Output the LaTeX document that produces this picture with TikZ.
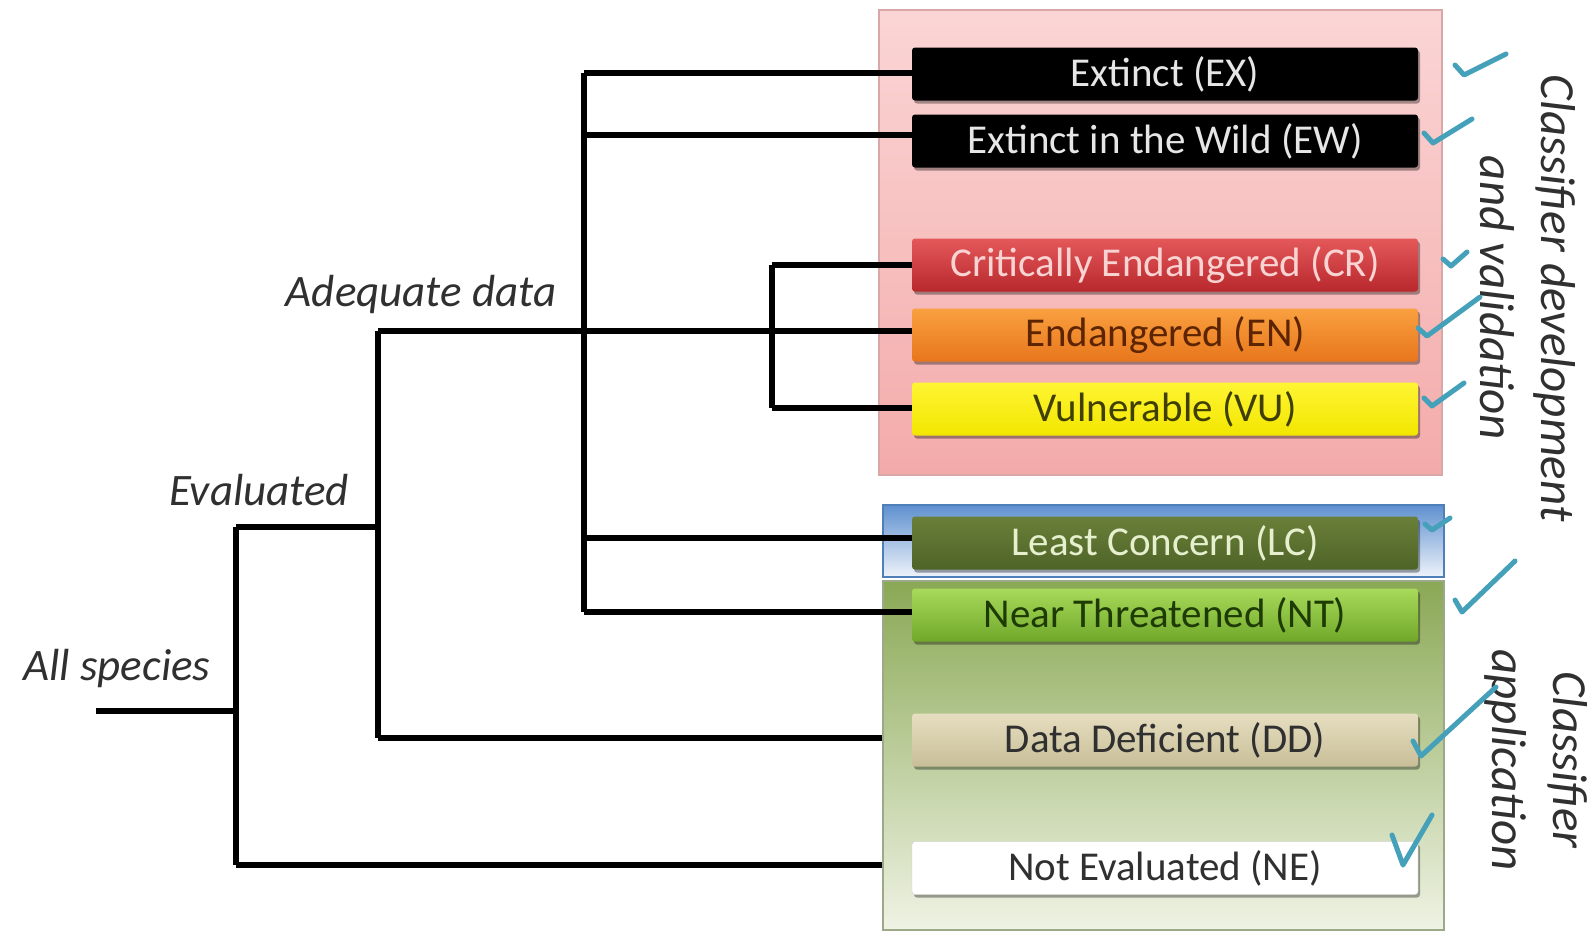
\documentclass[tikz,border=0pt]{standalone}
\usepackage{fontspec}
\setmainfont{Carlito}
\usetikzlibrary{shadows}
\definecolor{tickblue}{HTML}{45A0BA}
\definecolor{labgray}{HTML}{303030}
\definecolor{pinkedge}{HTML}{D8A8A8}
\begin{document}
\begin{tikzpicture}[x=1pt,y=-1pt,
  bar/.style={rounded corners=3pt, minimum width=506pt, minimum height=53pt, inner sep=0pt,
    font=\fontsize{41}{49}\selectfont,
    drop shadow={shadow xshift=2pt,shadow yshift=-3pt,opacity=0.35,fill=black}},
  zone/.style={inner sep=0pt, line width=1.5pt},
  tree/.style={line width=5.5pt, black},
  lab/.style={font=\fontsize{45}{52}\selectfont\itshape, text=labgray},
  side/.style={font=\fontsize{49}{61}\selectfont\itshape, text=labgray, rotate=-90, align=center},
  tick/.style={line width=5pt, draw=tickblue, line cap=round, line join=round},
]
\useasboundingbox (0,0) rectangle (1592,932);

% zones
\node[zone, draw=pinkedge, top color={rgb,255:red,251;green,213;blue,213}, bottom color={rgb,255:red,243;green,171;blue,170},
  minimum width=563pt, minimum height=465pt] (pink) at (1160.5,242.5) {};
\node[zone, draw={rgb,255:red,79;green,127;blue,184}, top color={rgb,255:red,94;green,144;blue,207}, bottom color={rgb,255:red,238;green,243;blue,250},
  minimum width=561pt, minimum height=72pt] (blue) at (1163.5,541) {};
\node[zone, draw={rgb,255:red,155;green,169;blue,138}, top color={rgb,255:red,138;green,168;blue,85}, bottom color={rgb,255:red,239;green,243;blue,228},
  minimum width=561pt, minimum height=349pt] (green) at (1163.5,755.5) {};

% category bars
\node[bar, fill=black, text={rgb,255:red,230;green,230;blue,230}] (EX) at (1165,74) {Extinct (EX)};
\node[bar, fill=black, text={rgb,255:red,230;green,230;blue,230}] (EW) at (1165,141) {Extinct in the Wild (EW)};
\node[bar, top color={rgb,255:red,228;green,88;blue,90}, bottom color={rgb,255:red,184;green,40;blue,44}, text={rgb,255:red,249;green,210;blue,210}] (CR) at (1165,265) {Critically Endangered (CR)};
\node[bar, top color={rgb,255:red,249;green,160;blue,64}, bottom color={rgb,255:red,232;green,118;blue,28}, text={rgb,255:red,92;green,36;blue,0}] (EN) at (1165,335) {Endangered (EN)};
\node[bar, top color={rgb,255:red,255;green,245;blue,51}, bottom color={rgb,255:red,242;green,230;blue,0}, text={rgb,255:red,63;green,63;blue,0}] (VU) at (1165,409) {Vulnerable (VU)};
\node[bar, top color={rgb,255:red,106;green,127;blue,56}, bottom color={rgb,255:red,78;green,100;blue,40}, text={rgb,255:red,230;green,240;blue,207}] (LC) at (1165,543) {Least Concern (LC)};
\node[bar, top color={rgb,255:red,168;green,218;blue,90}, bottom color={rgb,255:red,112;green,168;blue,42}, text={rgb,255:red,30;green,58;blue,5}] (NT) at (1165,615) {Near Threatened (NT)};
\node[bar, top color={rgb,255:red,230;green,222;blue,192}, bottom color={rgb,255:red,200;green,190;blue,152}, text=labgray] (DD) at (1165,740) {Data Deficient (DD)};
\node[bar, fill=white, draw={rgb,255:red,204;green,204;blue,204}, text=labgray] (NE) at (1165,868) {Not Evaluated (NE)};

% tree junctions
\coordinate (root) at (96,711);
\coordinate (a1) at (236,527);
\coordinate (a2) at (236,865);
\coordinate (e1) at (378,527);
\coordinate (e2) at (378,331);
\coordinate (e3) at (378,738);
\coordinate (b1) at (584,73);
\coordinate (bEW) at (584,135);
\coordinate (bLC) at (584,538);
\coordinate (b2) at (584,612);
\coordinate (c1) at (772,265);
\coordinate (c2) at (772,408);

\draw[tree] (root) -- (root -| a1);
\draw[tree] (a1) -- (a2);
\draw[tree] (a1) -- (e1);
\draw[tree] (a2) -- (a2 -| green.west);
\draw[tree] (e2) -- (e3);
\draw[tree] (e3) -- (e3 -| green.west);
\draw[tree] (e2) -- (e2 -| EN.west);
\draw[tree] (b1) -- (b2);
\draw[tree] (b1) -- (b1 -| EX.west);
\draw[tree] (bEW) -- (bEW -| EW.west);
\draw[tree] (bLC) -- (bLC -| LC.west);
\draw[tree] (b2) -- (b2 -| NT.west);
\draw[tree] (c1) -- (c2);
\draw[tree] (c1) -- (c1 -| CR.west);
\draw[tree] (c2) -- (c2 -| VU.west);

% labels
\node[lab] (adq) at (421,294) {Adequate data};
\node[lab] (evl) at (259,490) {Evaluated};
\node[lab] (all) at (117,668) {All species};
\node[side] (dev) at (1528,298) {Classifier development\\and validation};
\node[side] (app) at (1536,760) {Classifier\\application};

% hand-drawn ticks
\draw[tick] (1455,65) -- (1464,75) -- (1506,54);
\draw[tick] (1424,133) -- (1433,143) -- (1472,119);
\draw[tick] (1443,259) -- (1451,266) -- (1467,252);
\draw[tick] (1418,328) -- (1427,336) -- (1480,297);
\draw[tick] (1424,398) -- (1432,406) -- (1464,383);
\draw[tick] (1425,524) -- (1432,530) -- (1450,518);
\draw[tick] (1455,600) -- (1462,612) -- (1515,561);
\draw[tick] (1413,741) -- (1421,756) -- (1496,687);
\draw[tick] (1392,835) -- (1403,865) -- (1432,815);
\end{tikzpicture}
\end{document}
